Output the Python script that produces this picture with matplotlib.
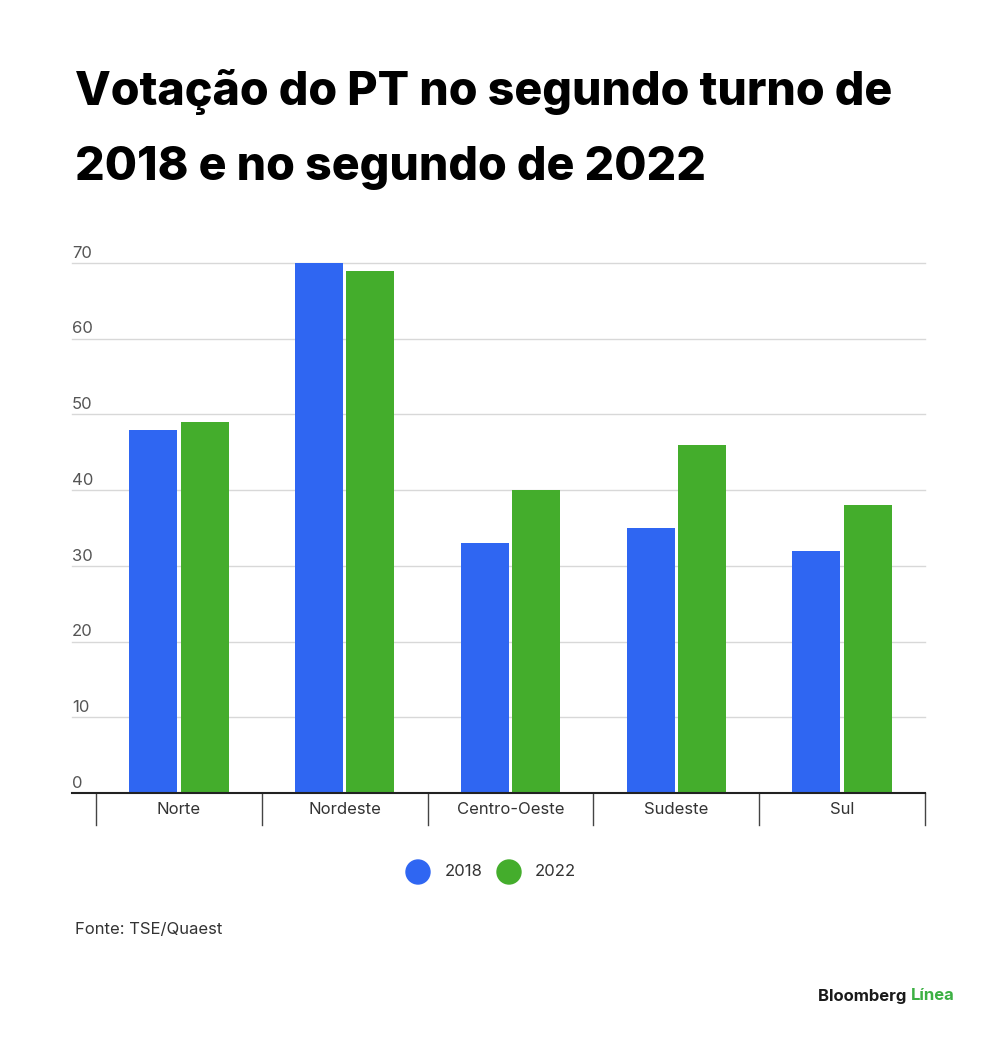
import matplotlib
matplotlib.use("Agg")
import matplotlib.pyplot as plt
import matplotlib.transforms as mtransforms
import numpy as np

regioes = ["Norte", "Nordeste", "Centro-Oeste", "Sudeste", "Sul"]
votos_2018 = [48, 70, 33, 35, 32]
votos_2022 = [49, 69, 40, 46, 38]
anos = ["2018", "2022"]
y_ticks = [0, 10, 20, 30, 40, 50, 60, 70]

AZUL = "#2f66f2"
VERDE = "#44ad2c"
plt.rcParams["font.family"] = ["Inter", "DejaVu Sans"]

fig = plt.figure(figsize=(10, 10.4), dpi=100)
ax = fig.add_axes([0.072, 0.2375, 0.853, 0.5096])

x = np.arange(len(regioes))
w = 0.29
ax.bar(x - 0.155, votos_2018, w, color=AZUL, zorder=3)
ax.bar(x + 0.155, votos_2022, w, color=VERDE, zorder=3)

ax.set_xlim(-0.645, len(regioes) - 0.5)
ax.set_ylim(0, 70)
for s in ["top", "right", "left"]:
    ax.spines[s].set_visible(False)
ax.spines["bottom"].set_color("#222222")
ax.spines["bottom"].set_linewidth(1.5)
ax.spines["bottom"].set_zorder(4)
ax.set_yticks([])
ax.set_xticks([])

trans = mtransforms.blended_transform_factory(ax.transAxes, ax.transData)
for t in y_ticks:
    if t > 0:
        ax.axhline(t, color="#d8d8d8", lw=1, zorder=1, clip_on=False)
    ax.text(0.0, t + 0.3, str(t), transform=trans, ha="left", va="bottom",
            fontsize=12, color="#555555")

# divisores e rótulos das categorias
for i in range(len(regioes) + 1):
    ax.plot([i - 0.5, i - 0.5], [0, -4.2], color="#444444", lw=1, clip_on=False)
for i, r in enumerate(regioes):
    ax.text(i, -2.2, r, ha="center", va="center", fontsize=12, color="#333333")

# legenda
fig.patches.append(plt.Circle((418, 1040 - 872), 12, transform=None, color=AZUL))
fig.patches.append(plt.Circle((509, 1040 - 872), 12, transform=None, color=VERDE))
fig.text(445 / 1000, 1 - 872 / 1040, anos[0], ha="left", va="center", fontsize=12, color="#333333")
fig.text(535 / 1000, 1 - 872 / 1040, anos[1], ha="left", va="center", fontsize=12, color="#333333")

fig.text(0.075, 1 - 105 / 1040, "Votação do PT no segundo turno de", fontsize=33.5,
         fontweight="heavy", color="#000000", ha="left", va="baseline")
fig.text(0.075, 1 - 180 / 1040, "2018 e no segundo de 2022", fontsize=33.5,
         fontweight="heavy", color="#000000", ha="left", va="baseline")

fig.text(0.075, 1 - 929 / 1040, "Fonte: TSE/Quaest", fontsize=12, color="#333333",
         ha="left", va="center")

t1 = fig.text(0.818, 1 - 996 / 1040, "Bloomberg ", fontsize=12, fontweight="bold",
              color="#1a1a1a", ha="left", va="center")
fig.canvas.draw()
bb = t1.get_window_extent()
fig.text(bb.x1 / 1000, 1 - 996 / 1040, "Línea", fontsize=12, fontweight="bold",
         color="#3cb043", ha="left", va="center")

fig.savefig("out.png", dpi=100)
